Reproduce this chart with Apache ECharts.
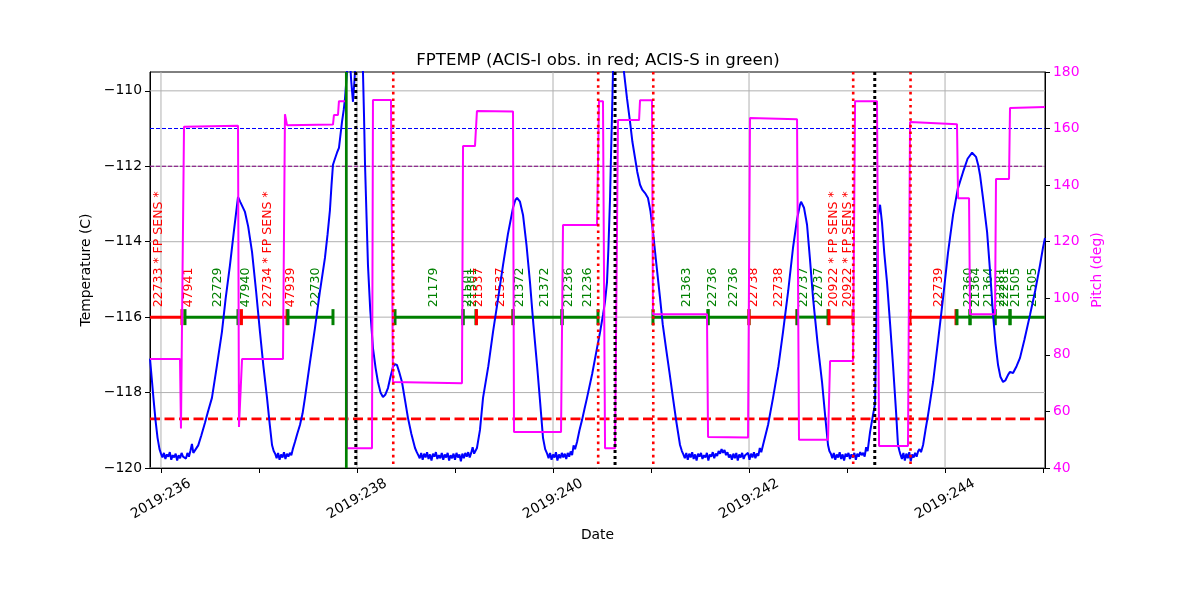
<!DOCTYPE html>
<html><head><meta charset="utf-8">
<script src="https://cdn.jsdelivr.net/npm/echarts@6/dist/echarts.min.js"></script>
<style>html,body{margin:0;padding:0;background:#fff}#c{width:1200px;height:600px}</style>
</head><body><div id="c"></div>
<script>
// ---------------- data ----------------
const xRange = [235.888, 245.02];
const xTickDays = [236, 237, 238, 239, 240, 241, 242, 243, 244, 245];
const xLabelDays = [236, 238, 240, 242, 244];
const xGridDays = [236, 238, 240, 242, 244];
const tempRange = [-120, -109.5];
const tempTicks = [-120, -118, -116, -114, -112, -110];
const pitchTicks = [40, 60, 80, 100, 120, 140, 160, 180];

// FPTEMP [day-of-year, degC]
const fptemp = [
[235.888,-117.10],[235.905,-117.6],[235.925,-118.2],[235.945,-118.75],[235.965,-119.2],[235.985,-119.5],
[236.000,-119.62],[236.015,-119.72],[236.03,-119.60],[236.045,-119.76],[236.06,-119.64],[236.075,-119.70],[236.09,-119.58],[236.105,-119.78],[236.12,-119.66],[236.135,-119.72],[236.15,-119.62],[236.165,-119.80],[236.18,-119.66],[236.195,-119.74],[236.21,-119.60],[236.225,-119.70],[236.24,-119.65],[236.255,-119.75],[236.27,-119.6],[236.285,-119.7],[236.30,-119.55],[236.316,-119.36],[236.33,-119.6],[236.347,-119.62],
[236.38,-119.4],[236.41,-119.15],[236.449,-118.8],[236.48,-118.5],[236.520,-118.14],[236.57,-117.3],[236.622,-116.39],[236.66,-115.5],[236.704,-114.62],[236.745,-113.7],[236.786,-112.81],[236.796,-112.76],[236.81,-112.95],[236.827,-113.0],[236.857,-113.21],[236.89,-113.6],[236.929,-114.27],[236.97,-115.3],[237.010,-116.39],[237.045,-117.3],[237.082,-118.14],[237.11,-118.85],[237.133,-119.39],[237.15,-119.55],
[237.165,-119.62],[237.18,-119.74],[237.195,-119.6],[237.21,-119.78],[237.225,-119.64],[237.24,-119.72],[237.255,-119.58],[237.27,-119.76],[237.285,-119.62],[237.30,-119.7],[237.315,-119.6],[237.33,-119.66],[237.345,-119.5],
[237.367,-119.31],[237.39,-119.1],[237.418,-118.86],[237.445,-118.55],[237.469,-118.14],[237.52,-117.2],[237.571,-116.29],[237.62,-115.35],[237.673,-114.43],[237.70,-113.8],[237.724,-113.16],[237.74,-112.5],[237.755,-111.96],[237.775,-111.8],[237.796,-111.64],[237.816,-111.51],[237.83,-111.2],[237.847,-110.82],[237.865,-110.5],[237.878,-110.19],[237.898,-109.5],[237.918,-108.7],
[237.94,-109.7],[237.959,-110.29],[237.975,-109.7],[237.995,-108.7],[238.02,-107.5],[238.045,-108.7],[238.061,-109.5],[238.072,-110.7],[238.082,-111.96],[238.097,-113.3],[238.112,-114.62],[238.135,-115.8],[238.163,-116.82],[238.19,-117.35],[238.214,-117.72],[238.24,-118.0],[238.265,-118.12],[238.29,-118.05],[238.316,-117.88],[238.34,-117.6],[238.367,-117.32],[238.385,-117.25],[238.408,-117.27],[238.43,-117.45],[238.459,-117.72],[238.49,-118.2],[238.520,-118.67],[238.555,-119.1],[238.592,-119.47],[238.61,-119.58],
[238.625,-119.66],[238.64,-119.74],[238.655,-119.6],[238.67,-119.78],[238.685,-119.62],[238.70,-119.72],[238.715,-119.58],[238.73,-119.76],[238.745,-119.64],[238.76,-119.8],[238.775,-119.62],[238.79,-119.7],[238.805,-119.58],[238.82,-119.76],[238.835,-119.66],[238.85,-119.74],[238.865,-119.6],[238.88,-119.78],[238.895,-119.64],[238.91,-119.72],[238.925,-119.6],[238.94,-119.8],[238.955,-119.66],[238.97,-119.74],[238.985,-119.62],[239.00,-119.78],[239.015,-119.6],[239.03,-119.72],[239.045,-119.64],[239.06,-119.82],[239.075,-119.62],[239.09,-119.74],[239.105,-119.6],[239.12,-119.7],[239.135,-119.58],[239.15,-119.72],[239.165,-119.6],[239.18,-119.45],[239.195,-119.62],
[239.224,-119.47],[239.255,-118.99],[239.286,-118.14],[239.34,-117.3],[239.388,-116.39],[239.44,-115.5],[239.490,-114.62],[239.54,-113.8],[239.592,-113.10],[239.615,-112.9],[239.633,-112.84],[239.65,-112.86],[239.663,-112.94],[239.694,-113.29],[239.73,-114.1],[239.765,-115.07],[239.80,-116.2],[239.837,-117.27],[239.87,-118.3],[239.898,-119.20],[239.92,-119.5],
[239.94,-119.62],[239.955,-119.74],[239.97,-119.6],[239.985,-119.78],[240.00,-119.64],[240.015,-119.72],[240.03,-119.58],[240.045,-119.8],[240.06,-119.64],[240.075,-119.74],[240.09,-119.6],[240.105,-119.72],[240.12,-119.62],[240.135,-119.76],[240.15,-119.6],[240.165,-119.7],[240.18,-119.56],[240.195,-119.66],[240.21,-119.4],[240.225,-119.5],
[240.245,-119.31],[240.27,-119.0],[240.296,-118.73],[240.32,-118.45],[240.347,-118.14],[240.40,-117.5],[240.449,-116.82],[240.48,-116.4],[240.510,-115.94],[240.53,-115.6],[240.551,-115.07],[240.565,-114.2],[240.582,-112.84],[240.592,-111.7],[240.602,-110.64],[240.612,-109.5],[240.63,-108.3],[240.66,-107.6],[240.69,-108.0],[240.71,-108.8],[240.724,-109.5],[240.755,-110.2],[240.786,-110.82],[240.81,-111.35],[240.837,-111.78],[240.86,-112.15],[240.888,-112.49],[240.91,-112.62],[240.939,-112.71],[240.969,-112.84],[240.995,-113.2],[241.020,-113.74],[241.055,-114.6],[241.092,-115.49],[241.12,-116.2],[241.153,-116.82],[241.19,-117.5],[241.224,-118.14],[241.26,-118.8],[241.296,-119.39],[241.315,-119.55],
[241.33,-119.64],[241.345,-119.74],[241.36,-119.6],[241.375,-119.78],[241.39,-119.62],[241.405,-119.72],[241.42,-119.58],[241.435,-119.76],[241.45,-119.64],[241.465,-119.8],[241.48,-119.62],[241.495,-119.7],[241.51,-119.6],[241.525,-119.76],[241.54,-119.66],[241.555,-119.72],[241.57,-119.6],[241.585,-119.8],[241.60,-119.64],[241.615,-119.7],[241.63,-119.58],[241.645,-119.74],[241.66,-119.62],[241.675,-119.68],[241.69,-119.55],[241.705,-119.62],[241.72,-119.5],[241.735,-119.6],[241.75,-119.52],[241.765,-119.66],[241.78,-119.58],[241.795,-119.72],[241.81,-119.64],[241.825,-119.78],[241.84,-119.62],[241.855,-119.74],[241.87,-119.6],[241.885,-119.8],[241.90,-119.64],[241.915,-119.72],[241.93,-119.6],[241.945,-119.76],[241.96,-119.66],[241.975,-119.7],[241.99,-119.6],[242.005,-119.78],[242.02,-119.62],[242.035,-119.72],[242.05,-119.58],[242.065,-119.74],[242.08,-119.62],[242.095,-119.68],[242.11,-119.47],[242.125,-119.58],
[242.143,-119.39],[242.194,-118.86],[242.245,-118.14],[242.30,-117.3],[242.347,-116.39],[242.40,-115.3],[242.449,-114.16],[242.49,-113.4],[242.520,-113.02],[242.531,-112.94],[242.545,-112.98],[242.561,-113.10],[242.592,-113.55],[242.62,-114.4],[242.653,-115.49],[242.70,-116.7],[242.745,-117.72],[242.78,-118.7],[242.806,-119.39],[242.82,-119.55],
[242.835,-119.62],[242.85,-119.74],[242.865,-119.6],[242.88,-119.78],[242.895,-119.64],[242.91,-119.72],[242.925,-119.58],[242.94,-119.76],[242.955,-119.64],[242.97,-119.8],[242.985,-119.62],[243.00,-119.7],[243.015,-119.6],[243.03,-119.76],[243.045,-119.64],[243.06,-119.72],[243.075,-119.6],[243.09,-119.78],[243.105,-119.62],[243.12,-119.7],[243.135,-119.58],[243.15,-119.66],[243.165,-119.6],[243.18,-119.7],[243.195,-119.45],[243.21,-119.55],
[243.235,-119.05],[243.265,-118.59],[243.286,-118.3],[243.30,-116.0],[243.316,-113.3],[243.337,-113.02],[243.357,-113.5],[243.38,-114.3],[243.408,-115.07],[243.44,-116.2],[243.469,-117.27],[243.50,-118.5],[243.520,-119.39],[243.535,-119.55],
[243.545,-119.64],[243.56,-119.76],[243.575,-119.6],[243.59,-119.8],[243.605,-119.62],[243.62,-119.74],[243.635,-119.58],[243.65,-119.82],[243.665,-119.64],[243.68,-119.72],[243.695,-119.6],[243.71,-119.7],[243.725,-119.56],[243.74,-119.5],[243.755,-119.58],
[243.776,-119.39],[243.80,-119.0],[243.827,-118.59],[243.85,-118.2],[243.878,-117.72],[243.93,-116.6],[243.980,-115.49],[244.03,-114.3],[244.082,-113.29],[244.13,-112.6],[244.184,-112.15],[244.23,-111.8],[244.276,-111.64],[244.296,-111.66],[244.316,-111.75],[244.337,-111.95],[244.357,-112.23],[244.39,-112.9],[244.429,-113.74],[244.46,-114.8],[244.490,-115.94],[244.515,-116.7],[244.541,-117.27],[244.565,-117.58],[244.592,-117.72],[244.615,-117.68],[244.643,-117.53],[244.663,-117.45],[244.68,-117.5],[244.694,-117.48],[244.73,-117.3],[244.765,-117.08],[244.81,-116.6],[244.867,-115.94],[244.92,-115.3],[244.969,-114.62],[245.00,-114.15],[245.020,-113.90]
];

// Pitch [day-of-year, deg]
const pitch = [
[235.888,78.5],[236.194,78.5],[236.204,54.0],[236.235,160.6],[236.786,161.0],[236.796,54.5],[236.827,78.5],
[237.245,78.5],[237.265,165.1],[237.286,161.2],[237.755,161.4],[237.765,164.8],[237.806,164.8],[237.816,169.7],[237.888,169.7],
[237.898,47.0],[238.153,47.0],[238.163,170.1],[238.347,170.1],[238.367,70.4],[239.071,70.0],[239.082,153.8],[239.204,153.8],
[239.224,166.2],[239.592,166.0],[239.602,52.7],[240.082,52.7],[240.102,125.9],[240.449,125.9],[240.469,169.7],[240.510,169.7],
[240.531,47.0],[240.633,47.0],[240.663,163.0],[240.878,163.0],[240.888,170.0],[241.010,170.0],[241.020,94.4],[241.571,94.4],
[241.582,51.0],[241.990,50.8],[242.010,163.7],[242.490,163.3],[242.510,50.0],[242.806,50.0],[242.827,77.8],[243.061,77.8],
[243.082,169.7],[243.306,169.7],[243.327,47.8],[243.622,47.8],[243.643,162.3],[244.122,161.5],[244.133,135.4],[244.245,135.4],
[244.255,94.4],[244.510,94.4],[244.520,142.2],[244.653,142.2],[244.663,167.3],[245.020,167.6]
];

// Observations: start, end, instrument (I = ACIS-I, S = ACIS-S)
const obsStart = [235.85, 236.245, 236.821, 237.296, 238.388, 239.082, 239.219, 239.592, 240.092, 241.020, 241.582, 242.000, 242.490, 242.816, 243.643, 244.122, 244.255, 244.510, 244.663];
const obsEnd   = [236.214, 236.786, 237.286, 237.755, 239.082, 239.214, 239.592, 240.092, 240.459, 241.582, 242.000, 242.490, 242.806, 243.061, 244.112, 244.255, 244.510, 244.663, 245.10];
const obsInst  = ['I','S','I','S','S','S','I','S','S','S','S','I','S','I','I','S','S','S','S'];
const obsLevel = -116;

// Observation labels
const labelTime = [235.913, 236.219, 236.515, 236.801, 237.026, 237.260, 237.515, 238.719, 239.066, 239.117, 239.179, 239.403, 239.597, 239.852, 240.097, 240.291, 241.301, 241.566, 241.781, 241.985, 242.240, 242.495, 242.648, 242.801, 242.944, 243.872, 244.179, 244.250, 244.383, 244.505, 244.546, 244.658, 244.832];
const labelText = ['22733 * FP SENS *','47941','22729','47940','22734 * FP SENS *','47939','22730','21179','21501','21501','21537','21537','21372','21372','21236','21236','21363','22736','22736','22738','22738','22737','22737','20922 * FP SENS *','20922 * FP SENS *','22739','22360','21364','21364','22281','22281','21505','21505'];
const labelInst = ['I','I','S','S','I','I','S','S','S','S','I','I','S','S','S','S','S','S','S','I','I','S','S','I','I','I','S','S','S','S','S','S','S'];
const labelBase = -115.74;

// Reference lines
const greenLineTimes = [237.891];
const blackDotTimes = [237.988, 240.633, 243.283];
const redDotTimes = [238.370, 240.461, 241.023, 243.063, 243.648];
const limitBlue = -111.0;
const limitPurple = -112.0;
const limitRed = -118.7;

// ---------------- chart ----------------
const RED = '#ff0000', GREEN = '#008000', BLUE = '#0000ff', MAG = '#ff00ff';
const FONT = 'DejaVu Sans';
const minus = v => (v < 0 ? '\u2212' : '') + Math.abs(v);

const chart = echarts.init(document.getElementById('c'), null, {renderer: 'canvas'});

function vlineSeries(times, style, z) {
  return {
    type: 'custom', z: z, silent: true, clip: true,
    data: times.map(t => [t]),
    renderItem(params, api) {
      const cs = params.coordSys;
      const x = api.coord([api.value(0), tempRange[0]])[0];
      return {type: 'line', shape: {x1: x, y1: cs.y, x2: x, y2: cs.y + cs.height}, style: style};
    }
  };
}
function hlineSeries(vals, style, z) {
  return {
    type: 'custom', z: z, silent: true, clip: true,
    data: vals.map(v => [xRange[0], v]),
    renderItem(params, api) {
      const cs = params.coordSys;
      const y = api.coord([api.value(0), api.value(1)])[1];
      return {type: 'line', shape: {x1: cs.x, y1: y, x2: cs.x + cs.width, y2: y}, style: style};
    }
  };
}

const option = {
  animation: false,
  backgroundColor: '#fff',
  textStyle: {fontFamily: FONT},
  title: {
    text: 'FPTEMP (ACIS-I obs. in red; ACIS-S in green)',
    left: 593, top: 47, textAlign: 'center',
    textStyle: {fontFamily: FONT, fontSize: 16.6, fontWeight: 'normal', color: '#000'}
  },
  grid: {left: 150, right: 155, top: 72, bottom: 132, show: true, borderColor: '#000', borderWidth: 1, backgroundColor: 'transparent'},
  xAxis: {
    type: 'value', min: xRange[0], max: xRange[1],
    name: 'Date', nameLocation: 'middle', nameGap: 60,
    nameTextStyle: {fontFamily: FONT, fontSize: 13.9, color: '#000'},
    axisLine: {show: true, lineStyle: {color: '#000', width: 1}},
    axisTick: {show: true, length: 5, lineStyle: {color: '#000'}, customValues: xTickDays},
    axisLabel: {
      customValues: xLabelDays, rotate: 30, margin: 31, align: 'center', verticalAlign: 'middle',
      fontFamily: FONT, fontSize: 13.9, color: '#000',
      formatter: v => '2019:' + Math.round(v)
    },
    splitLine: {show: false}
  },
  yAxis: [{
    type: 'value', min: tempRange[0], max: tempRange[1], position: 'left',
    name: 'Temperature (C)', nameLocation: 'middle', nameGap: 53, nameRotate: 90,
    nameTextStyle: {fontFamily: FONT, fontSize: 13.9, color: '#000'},
    axisLine: {show: true, lineStyle: {color: '#000'}},
    axisTick: {show: true, length: 5, lineStyle: {color: '#000'}, customValues: tempTicks},
    axisLabel: {customValues: tempTicks, margin: 8, fontFamily: FONT, fontSize: 13.9, color: '#000', formatter: minus},
    splitLine: {show: false}
  }, {
    type: 'value', min: 40, max: 180, interval: 20, position: 'right',
    name: 'Pitch (deg)', nameLocation: 'middle', nameGap: 38, nameRotate: 90,
    nameTextStyle: {fontFamily: FONT, fontSize: 13.9, color: MAG},
    axisLine: {show: true, lineStyle: {color: '#000'}},
    axisTick: {show: true, length: 5, lineStyle: {color: '#000'}, customValues: pitchTicks},
    axisLabel: {customValues: pitchTicks, margin: 8, fontFamily: FONT, fontSize: 13.9, color: MAG},
    splitLine: {show: false}
  }],
  series: [
    // grid lines
    vlineSeries(xGridDays, {stroke: '#b0b0b0', lineWidth: 1}, 1),
    hlineSeries(tempTicks, {stroke: '#b0b0b0', lineWidth: 1}, 1),
    // limits
    hlineSeries([limitBlue], {stroke: BLUE, lineWidth: 1.1, lineDash: [4, 2]}, 2),
    hlineSeries([limitPurple], {stroke: '#800080', lineWidth: 1.1, lineDash: [4, 2]}, 2),
    hlineSeries([limitRed], {stroke: RED, lineWidth: 2.8, lineDash: [10, 4.5]}, 2),
    // observations
    {
      type: 'custom', z: 3, silent: true, clip: true,
      data: obsStart.map((s, i) => ({value: [s, obsEnd[i]], itemStyle: {color: obsInst[i] === 'I' ? RED : GREEN}})),
      renderItem(params, api) {
        const a = api.coord([api.value(0), obsLevel]);
        const b = api.coord([api.value(1), obsLevel]);
        const c = api.visual('color');
        return {type: 'group', children: [
          {type: 'line', shape: {x1: a[0], y1: a[1], x2: b[0], y2: b[1]}, style: {stroke: c, lineWidth: 3}},
          {type: 'rect', shape: {x: a[0] - 1.5, y: a[1] - 8, width: 3, height: 16}, style: {fill: c}},
          {type: 'rect', shape: {x: b[0] - 1.5, y: b[1] - 8, width: 3, height: 16}, style: {fill: c}}
        ]};
      }
    },
    {
      type: 'custom', z: 3, silent: true, clip: false,
      data: labelTime.map((t, i) => ({value: [t, labelBase], itemStyle: {color: labelInst[i] === 'I' ? RED : GREEN}})),
      renderItem(params, api) {
        const p = api.coord([api.value(0), api.value(1)]);
        return {type: 'text', x: p[0], y: p[1], rotation: Math.PI / 2,
          style: {text: labelText[params.dataIndex], fill: api.visual('color'), fontFamily: FONT, fontSize: 12.5, align: 'left', verticalAlign: 'top'}};
      }
    },
    // temperature
    {
      type: 'line', yAxisIndex: 0, z: 4, data: fptemp, showSymbol: false, symbol: 'none', silent: true,
      lineStyle: {color: BLUE, width: 2}, clip: true
    },
    // pitch
    {
      type: 'line', yAxisIndex: 1, z: 5, data: pitch, showSymbol: false, symbol: 'none', silent: true,
      lineStyle: {color: MAG, width: 2}, clip: true
    },
    // vertical event lines
    vlineSeries(redDotTimes, {stroke: RED, lineWidth: 2.6, lineDash: [2.6, 4]}, 6),
    vlineSeries(blackDotTimes, {stroke: '#000', lineWidth: 3, lineDash: [3, 3]}, 6),
    vlineSeries(greenLineTimes, {stroke: GREEN, lineWidth: 2.7}, 6)
  ]
};
chart.setOption(option);
</script>
</body></html>
